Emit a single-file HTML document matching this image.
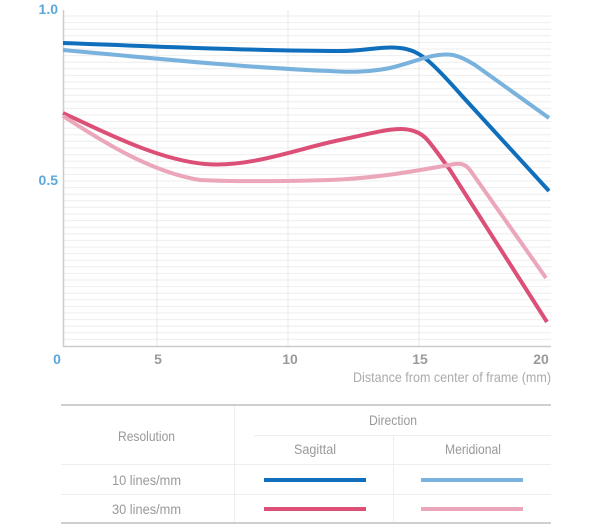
<!DOCTYPE html>
<html>
<head>
<meta charset="utf-8">
<style>
  html, body { margin:0; padding:0; background:#fff; }
  body { width:604px; height:530px; overflow:hidden; }
  svg { display:block; }
  text { font-family: "Liberation Sans", "DejaVu Sans", sans-serif; }
</style>
</head>
<body>
<svg width="604" height="530" viewBox="0 0 604 530" xmlns="http://www.w3.org/2000/svg">
  <!-- horizontal grid -->
  <g stroke="#eeeeee" stroke-width="1">
    <line x1="64" y1="16.0" x2="551" y2="16.0"/><line x1="64" y1="22.6" x2="551" y2="22.6"/><line x1="64" y1="29.2" x2="551" y2="29.2"/><line x1="64" y1="35.8" x2="551" y2="35.8"/><line x1="64" y1="42.4" x2="551" y2="42.4"/><line x1="64" y1="49.0" x2="551" y2="49.0"/><line x1="64" y1="55.6" x2="551" y2="55.6"/><line x1="64" y1="62.2" x2="551" y2="62.2"/><line x1="64" y1="68.8" x2="551" y2="68.8"/><line x1="64" y1="75.4" x2="551" y2="75.4"/><line x1="64" y1="82.0" x2="551" y2="82.0"/><line x1="64" y1="88.6" x2="551" y2="88.6"/><line x1="64" y1="95.2" x2="551" y2="95.2"/><line x1="64" y1="101.8" x2="551" y2="101.8"/><line x1="64" y1="108.4" x2="551" y2="108.4"/><line x1="64" y1="115.0" x2="551" y2="115.0"/><line x1="64" y1="121.6" x2="551" y2="121.6"/><line x1="64" y1="128.2" x2="551" y2="128.2"/><line x1="64" y1="134.8" x2="551" y2="134.8"/><line x1="64" y1="141.4" x2="551" y2="141.4"/><line x1="64" y1="148.0" x2="551" y2="148.0"/><line x1="64" y1="154.6" x2="551" y2="154.6"/><line x1="64" y1="161.2" x2="551" y2="161.2"/><line x1="64" y1="167.8" x2="551" y2="167.8"/><line x1="64" y1="174.4" x2="551" y2="174.4"/><line x1="64" y1="181.0" x2="551" y2="181.0"/><line x1="64" y1="187.6" x2="551" y2="187.6"/><line x1="64" y1="194.2" x2="551" y2="194.2"/><line x1="64" y1="200.8" x2="551" y2="200.8"/><line x1="64" y1="207.4" x2="551" y2="207.4"/><line x1="64" y1="214.0" x2="551" y2="214.0"/><line x1="64" y1="220.6" x2="551" y2="220.6"/><line x1="64" y1="227.2" x2="551" y2="227.2"/><line x1="64" y1="233.8" x2="551" y2="233.8"/><line x1="64" y1="240.4" x2="551" y2="240.4"/><line x1="64" y1="247.0" x2="551" y2="247.0"/><line x1="64" y1="253.6" x2="551" y2="253.6"/><line x1="64" y1="260.2" x2="551" y2="260.2"/><line x1="64" y1="266.8" x2="551" y2="266.8"/><line x1="64" y1="273.4" x2="551" y2="273.4"/><line x1="64" y1="280.0" x2="551" y2="280.0"/><line x1="64" y1="286.6" x2="551" y2="286.6"/><line x1="64" y1="293.2" x2="551" y2="293.2"/><line x1="64" y1="299.8" x2="551" y2="299.8"/><line x1="64" y1="306.4" x2="551" y2="306.4"/><line x1="64" y1="313.0" x2="551" y2="313.0"/><line x1="64" y1="319.6" x2="551" y2="319.6"/><line x1="64" y1="326.2" x2="551" y2="326.2"/><line x1="64" y1="332.8" x2="551" y2="332.8"/><line x1="64" y1="339.4" x2="551" y2="339.4"/>
  </g>
  <!-- vertical grid -->
  <g stroke="#e8e8e8" stroke-width="1">
    <line x1="157" y1="10" x2="157" y2="346"/>
    <line x1="288" y1="10" x2="288" y2="346"/>
    <line x1="419" y1="10" x2="419" y2="346"/>
  </g>
  <!-- axes -->
  <line x1="63.5" y1="10" x2="63.5" y2="346.5" stroke="#cccccc" stroke-width="1.5"/>
  <line x1="63" y1="346.5" x2="551" y2="346.5" stroke="#cccccc" stroke-width="1.5"/>

  <!-- curves -->
  <g fill="none" stroke-width="4" stroke-linecap="butt" stroke-linejoin="round">
    <path d="M63,43 C120,45 250,51 340,51 C365,51 380,46 400,48 C420,50 432,62 463,97 L549,191" stroke="#0f6fbd"/>
    <path d="M63,50 C150,58 250,68 330,71 C345,72 365,73 390,68 C415,62 435,52 453,55 C462,57 468,61 475,65 L549,118" stroke="#79b2dc"/>
    <path d="M63,113 C110,135 160,160 205,164 C250,168 300,148 340,140 C370,134 395,126 410,130 C425,133 428,140 450,170 L547,322" stroke="#dc5077"/>
    <path d="M63,116 C100,140 150,172 200,180 C240,182 300,181 330,180 C380,178 420,170 455,164 C462,163 466,165 470,170 L546,278" stroke="#eba6ba"/>
  </g>

  <!-- y labels -->
  <g font-weight="bold" font-size="14" fill="#5aa8da" text-anchor="end">
    <text x="58" y="14">1.0</text>
    <text x="58" y="185">0.5</text>
  </g>
  <!-- x labels -->
  <g font-weight="bold" font-size="14" text-anchor="middle">
    <text x="57" y="364" fill="#5aa8da">0</text>
    <text x="158" y="364" fill="#9a9a9a">5</text>
    <text x="290" y="364" fill="#9a9a9a">10</text>
    <text x="420" y="364" fill="#9a9a9a">15</text>
    <text x="541" y="364" fill="#9a9a9a">20</text>
  </g>
  <text x="353" y="382" font-size="14" fill="#ababab" textLength="198" lengthAdjust="spacingAndGlyphs">Distance from center of frame (mm)</text>

  <!-- table -->
  <line x1="61" y1="405" x2="551" y2="405" stroke="#cfcfcf" stroke-width="2"/>
  <line x1="61" y1="523" x2="551" y2="523" stroke="#cfcfcf" stroke-width="2"/>
  <line x1="234.5" y1="406" x2="234.5" y2="522" stroke="#eeeeee" stroke-width="1"/>
  <line x1="254" y1="435.5" x2="551" y2="435.5" stroke="#eeeeee" stroke-width="1"/>
  <line x1="393.5" y1="436" x2="393.5" y2="522" stroke="#eeeeee" stroke-width="1"/>
  <line x1="61" y1="464.5" x2="551" y2="464.5" stroke="#eeeeee" stroke-width="1"/>
  <line x1="61" y1="494.5" x2="551" y2="494.5" stroke="#eeeeee" stroke-width="1"/>

  <g font-size="14" fill="#999999">
    <text x="369" y="425" textLength="48" lengthAdjust="spacingAndGlyphs">Direction</text>
    <text x="118" y="441" textLength="57" lengthAdjust="spacingAndGlyphs">Resolution</text>
    <text x="294" y="454" textLength="42" lengthAdjust="spacingAndGlyphs">Sagittal</text>
    <text x="445" y="454" textLength="56" lengthAdjust="spacingAndGlyphs">Meridional</text>
    <text x="112" y="485" textLength="69" lengthAdjust="spacingAndGlyphs">10 lines/mm</text>
    <text x="112" y="514" textLength="69" lengthAdjust="spacingAndGlyphs">30 lines/mm</text>
  </g>

  <rect x="264" y="478" width="102" height="4" fill="#0f6fbd"/>
  <rect x="421" y="478" width="102" height="4" fill="#79b2dc"/>
  <rect x="264" y="507" width="102" height="4" fill="#dc5077"/>
  <rect x="421" y="507" width="102" height="4" fill="#eba6ba"/>
</svg>
</body>
</html>
